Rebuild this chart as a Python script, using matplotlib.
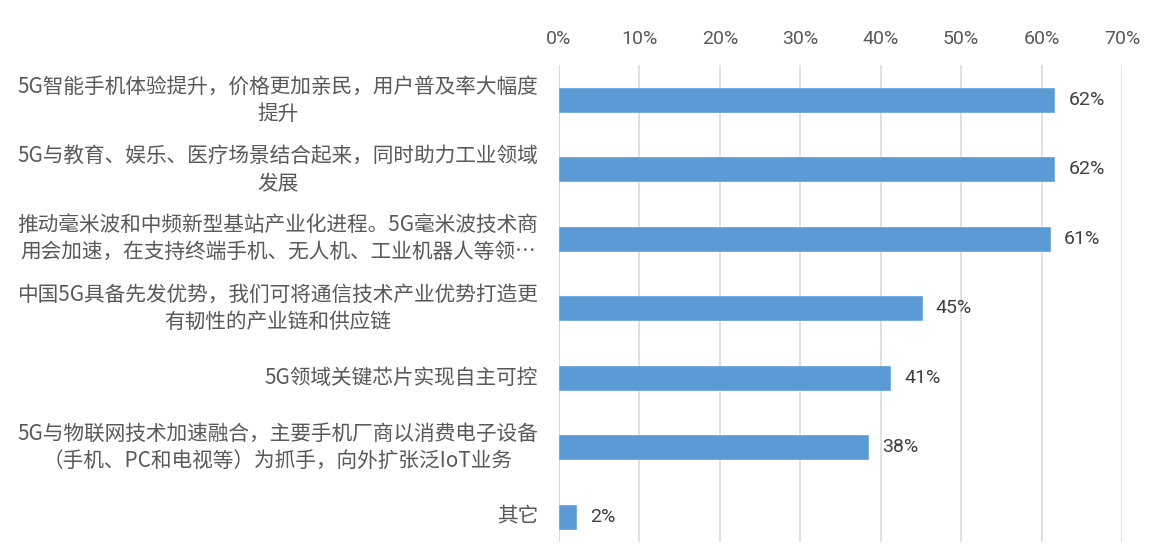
import matplotlib
matplotlib.use("Agg")
import matplotlib.pyplot as plt

categories = [
    "5G智能手机体验提升，价格更加亲民，用户普及率大幅度\n提升",
    "5G与教育、娱乐、医疗场景结合起来，同时助力工业领域\n发展",
    "推动毫米波和中频新型基站产业化进程。5G毫米波技术商\n用会加速，在支持终端手机、无人机、工业机器人等领…",
    "中国5G具备先发优势，我们可将通信技术产业优势打造更\n有韧性的产业链和供应链",
    "5G领域关键芯片实现自主可控",
    "5G与物联网技术加速融合，主要手机厂商以消费电子设备\n（手机、PC和电视等）为抓手，向外扩张泛IoT业务",
    "其它",
]
values = [61.6, 61.6, 61.0, 45.1, 41.2, 38.4, 2.1]
xticks = [0, 10, 20, 30, 40, 50, 60, 70]
xtick_labels = ["0%", "10%", "20%", "30%", "40%", "50%", "60%", "70%"]

W, H = 1162, 545
fig = plt.figure(figsize=(W / 100, H / 100), dpi=100)
left, right, top, bottom = 559, 1122, 65, 542
ax = fig.add_axes([left / W, 1 - bottom / H, (right - left) / W, (bottom - top) / H])

pos = list(range(len(categories)))
ax.barh(pos, values, height=0.345, color="#5B9BD5", edgecolor="#6FA8DC", linewidth=0.6, zorder=3)

ax.set_xlim(0, 70)
ax.set_ylim(6 + 25.5 / 69.5, -35 / 69.5)
ax.set_xticks(xticks)
ax.set_xticklabels(xtick_labels, fontfamily="Roboto", fontsize=14, color="#595959")
ax.xaxis.tick_top()
ax.tick_params(axis="x", length=0, pad=12)
ax.set_yticks([])
ax.grid(axis="x", color="#D9D9D9", linewidth=1.1, zorder=0)
ax.axvline(0, color="#D9D9D9", linewidth=1.4, zorder=1)
for s in ax.spines.values():
    s.set_visible(False)

for p, v, lab in zip(pos, values, categories):
    ax.text(-2.6, p, lab, ha="right", va="center", multialignment="center",
            fontsize=14.9, color="#595959", linespacing=1.3,
            family=["Noto Sans CJK SC", "DejaVu Sans"])
    ax.text(v + 1.75, p, f"{round(v):d}%", ha="left", va="center",
            fontsize=14, color="#404040", fontfamily="Roboto")

fig.savefig("out.png", dpi=100)
